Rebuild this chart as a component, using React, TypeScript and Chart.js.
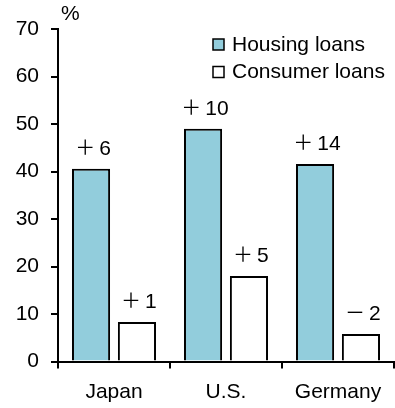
import React, { useEffect, useRef } from "react";
import { Chart, registerables } from "chart.js";

Chart.register(...registerables);

const categories = ["Japan", "U.S.", "Germany"];
const housingLoans = [40.6, 49.0, 41.6];
const consumerLoans = [8.3, 18.0, 5.8];
const housingChangeLabels = ["＋6", "＋10", "＋14"];
const consumerChangeLabels = ["＋1", "＋5", "－2"];
const seriesNames = ["Housing loans", "Consumer loans"];
const yUnit = "%";

const FONT = "'Liberation Sans', Arial, sans-serif";
const CJK = "'Noto Sans CJK JP', sans-serif";
const FS = 21;
const BLUE = "#92CDDC";

export default function App() {
  const ref = useRef<HTMLCanvasElement | null>(null);

  useEffect(() => {
    if (!ref.current) return;
    const changeLabels = [housingChangeLabels, consumerChangeLabels];

    const overlay = {
      id: "overlay",
      afterDatasetsDraw(chart: any) {
        const ctx = chart.ctx;
        const area = chart.chartArea;
        ctx.save();
        ctx.fillStyle = "#000";
        // data labels: full-width sign in its own slot, then number
        chart.data.datasets.forEach((_: any, di: number) => {
          const meta = chart.getDatasetMeta(di);
          meta.data.forEach((bar: any, i: number) => {
            const txt = changeLabels[di][i];
            const sign = txt.slice(0, 1);
            const num = txt.slice(1);
            ctx.font = `${FS}px ${FONT}`;
            const nw = ctx.measureText(num).width;
            const slot = 24;
            const x0 = bar.x + 2 - (slot + nw) / 2;
            const y = bar.y - 14;
            const midY = y - 7.5;
            ctx.font = `20px ${CJK}`;
            ctx.textAlign = "center";
            ctx.textBaseline = "middle";
            ctx.fillText(sign, x0 + 10, midY);
            ctx.font = `${FS}px ${FONT}`;
            ctx.textAlign = "left";
            ctx.textBaseline = "alphabetic";
            ctx.fillText(num, x0 + slot, y);
          });
        });
        ctx.font = `${FS}px ${FONT}`;
        // unit
        ctx.textAlign = "left";
        ctx.textBaseline = "middle";
        ctx.fillText(yUnit, area.left + 3, 14);
        // legend
        const lx = area.left + 155;
        const rows = [44, 71.5];
        const fills = [BLUE, "#fff"];
        seriesNames.forEach((name, i) => {
          const cy = rows[i];
          ctx.fillStyle = fills[i];
          ctx.fillRect(lx, cy - 5, 11, 11);
          ctx.strokeStyle = "#000";
          ctx.lineWidth = 1.5;
          ctx.strokeRect(lx, cy - 5, 11, 11);
          ctx.fillStyle = "#000";
          ctx.textAlign = "left";
          ctx.textBaseline = "middle";
          ctx.fillText(name, lx + 19, cy + 1);
        });
        ctx.restore();
      },
    };

    const chart = new Chart(ref.current, {
      type: "bar",
      data: {
        labels: categories,
        datasets: [
          {
            label: seriesNames[0],
            data: housingLoans,
            backgroundColor: BLUE,
            borderColor: "#000",
            borderWidth: 2,
            categoryPercentage: 0.82,
            barPercentage: 0.83,
          },
          {
            label: seriesNames[1],
            data: consumerLoans,
            backgroundColor: "#fff",
            borderColor: "#000",
            borderWidth: 2,
            categoryPercentage: 0.82,
            barPercentage: 0.83,
          },
        ],
      },
      options: {
        animation: false,
        responsive: false,
        maintainAspectRatio: false,
        layout: { padding: { top: 29, right: 1, left: 0, bottom: 0 } },
        plugins: {
          legend: { display: false },
          tooltip: { enabled: false },
        },
        scales: {
          x: {
            grid: {
              offset: true,
              drawOnChartArea: false,
              tickLength: 7,
              color: "#000",
              lineWidth: 2,
            },
            border: { color: "#000", width: 2 },
            ticks: {
              color: "#000",
              font: { family: FONT, size: FS },
              padding: 11,
            },
            afterFit(scale: any) {
              scale.height = 46.5;
            },
          },
          y: {
            min: 0,
            max: 70,
            ticks: {
              stepSize: 10,
              color: "#000",
              font: { family: FONT, size: FS },
              padding: 12,
            },
            grid: {
              drawOnChartArea: false,
              tickLength: 7,
              color: "#000",
              lineWidth: 2,
            },
            border: { color: "#000", width: 2 },
            afterFit(scale: any) {
              scale.width = 58;
            },
          },
        },
      },
      plugins: [overlay],
    });
    return () => chart.destroy();
  }, []);

  return (
    <div style={{ position: "fixed", left: 0, top: 0, width: 395, height: 408, background: "#fff" }}>
      <canvas ref={ref} width={395} height={408} style={{ width: 395, height: 408 }} />
    </div>
  );
}
